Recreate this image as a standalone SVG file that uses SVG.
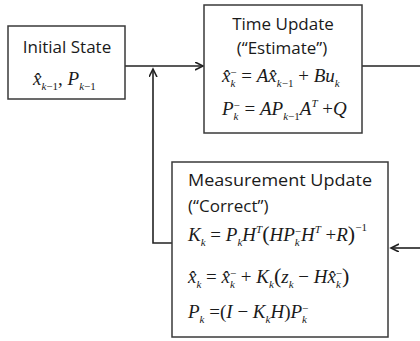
<svg xmlns="http://www.w3.org/2000/svg" width="420" height="341" viewBox="0 0 420 341">
<style>
.box{fill:#fff;stroke:#3a3a3a;stroke-width:1.5}
.t{font-family:"Open Sans","Liberation Sans",sans-serif;font-size:17px;fill:#1a1a1a}
.m{font-family:"Liberation Serif",serif;font-style:italic;font-size:19px;fill:#1a1a1a}
.s{font-size:11px}
.o{font-style:normal}
.c{fill:none;stroke:#222;stroke-width:1.6}
</style>
<defs>
<marker id="ah" markerWidth="10" markerHeight="10" refX="8" refY="4" orient="auto" markerUnits="userSpaceOnUse">
<path d="M0,0 L8,4 L0,8" fill="none" stroke="#222" stroke-width="1.6"/>
</marker>
</defs>
<rect width="420" height="341" fill="#fff"/>
<g id="connectors">
<line class="c" x1="125" y1="66" x2="203" y2="66" marker-end="url(#ah)"/>
<line class="c" x1="362" y1="66" x2="420" y2="66"/>
<polyline class="c" points="172,243 153,243 153,69" marker-end="url(#ah)"/>
<line class="c" x1="420" y1="248" x2="391" y2="248" marker-end="url(#ah)"/>
</g>
<g id="initial-state">
<rect class="box" x="8" y="26" width="117" height="73"/>
<text class="t" x="67" y="53" text-anchor="middle">Initial State</text>
<text class="m" x="33" y="85">x&#770;<tspan class="s" dy="5">k<tspan class="o">−1</tspan></tspan><tspan dy="-5" class="o">, </tspan>P<tspan class="s" dy="5">k<tspan class="o">−1</tspan></tspan></text>
</g>
<g id="time-update">
<rect class="box" x="204" y="5" width="158" height="128"/>
<text class="t" x="283" y="30" text-anchor="middle">Time Update</text>
<text class="t" x="282" y="54" text-anchor="middle">(“Estimate”)</text>
<text class="m" x="222" y="82">x&#770;<tspan class="s" dy="5">k</tspan><tspan class="s o" dx="-5" dy="-11">−</tspan><tspan class="o" dy="6"> = </tspan>Ax&#770;<tspan class="s" dy="5">k<tspan class="o">−1</tspan></tspan><tspan class="o" dy="-5"> + </tspan>Bu<tspan class="s" dy="5">k</tspan></text>
<text class="m" x="222" y="115">P<tspan class="s" dy="5">k</tspan><tspan class="s o" dx="-5" dy="-11">−</tspan><tspan class="o" dy="6"> = </tspan>AP<tspan class="s" dy="5">k<tspan class="o">−1</tspan></tspan><tspan dy="-5">A</tspan><tspan class="s" dy="-8">T</tspan><tspan class="o" dy="8"> +</tspan>Q</text>
</g>
<g id="measurement-update">
<rect class="box" x="172" y="162" width="216" height="175"/>
<text class="t" x="188" y="186" textLength="184" lengthAdjust="spacingAndGlyphs">Measurement Update</text>
<text class="t" x="188" y="212">(“Correct”)</text>
<text class="m" x="188" y="241">K<tspan class="s" dy="5">k</tspan><tspan class="o" dy="-5"> = </tspan>P<tspan class="s" dy="5">k</tspan><tspan dy="-5">H</tspan><tspan class="s" dy="-8">T</tspan><tspan class="o" dy="8" font-size="22">(</tspan>HP<tspan class="s" dy="5">k</tspan><tspan class="s o" dx="-5" dy="-11">−</tspan><tspan dy="6">H</tspan><tspan class="s" dy="-8">T</tspan><tspan class="o" dy="8"> +</tspan>R<tspan class="o" font-size="22">)</tspan><tspan class="s o" dy="-10">−1</tspan></text>
<text class="m" x="188" y="283">x&#770;<tspan class="s" dy="5">k</tspan><tspan class="o" dy="-5"> = </tspan>x&#770;<tspan class="s" dy="5">k</tspan><tspan class="s o" dx="-5" dy="-11">−</tspan><tspan class="o" dy="6"> + </tspan>K<tspan class="s" dy="5">k</tspan><tspan class="o" dy="-5" font-size="22">(</tspan>z<tspan class="s" dy="5">k</tspan><tspan class="o" dy="-5"> − </tspan>Hx&#770;<tspan class="s" dy="5">k</tspan><tspan class="s o" dx="-5" dy="-11">−</tspan><tspan class="o" dy="6" font-size="22">)</tspan></text>
<text class="m" x="188" y="318">P<tspan class="s" dy="5">k</tspan><tspan class="o" dy="-5"> =(</tspan>I<tspan class="o"> − </tspan>K<tspan class="s" dy="5">k</tspan><tspan dy="-5">H</tspan><tspan class="o">)</tspan>P<tspan class="s" dy="5">k</tspan><tspan class="s o" dx="-5" dy="-11">−</tspan></text>
</g>
</svg>
